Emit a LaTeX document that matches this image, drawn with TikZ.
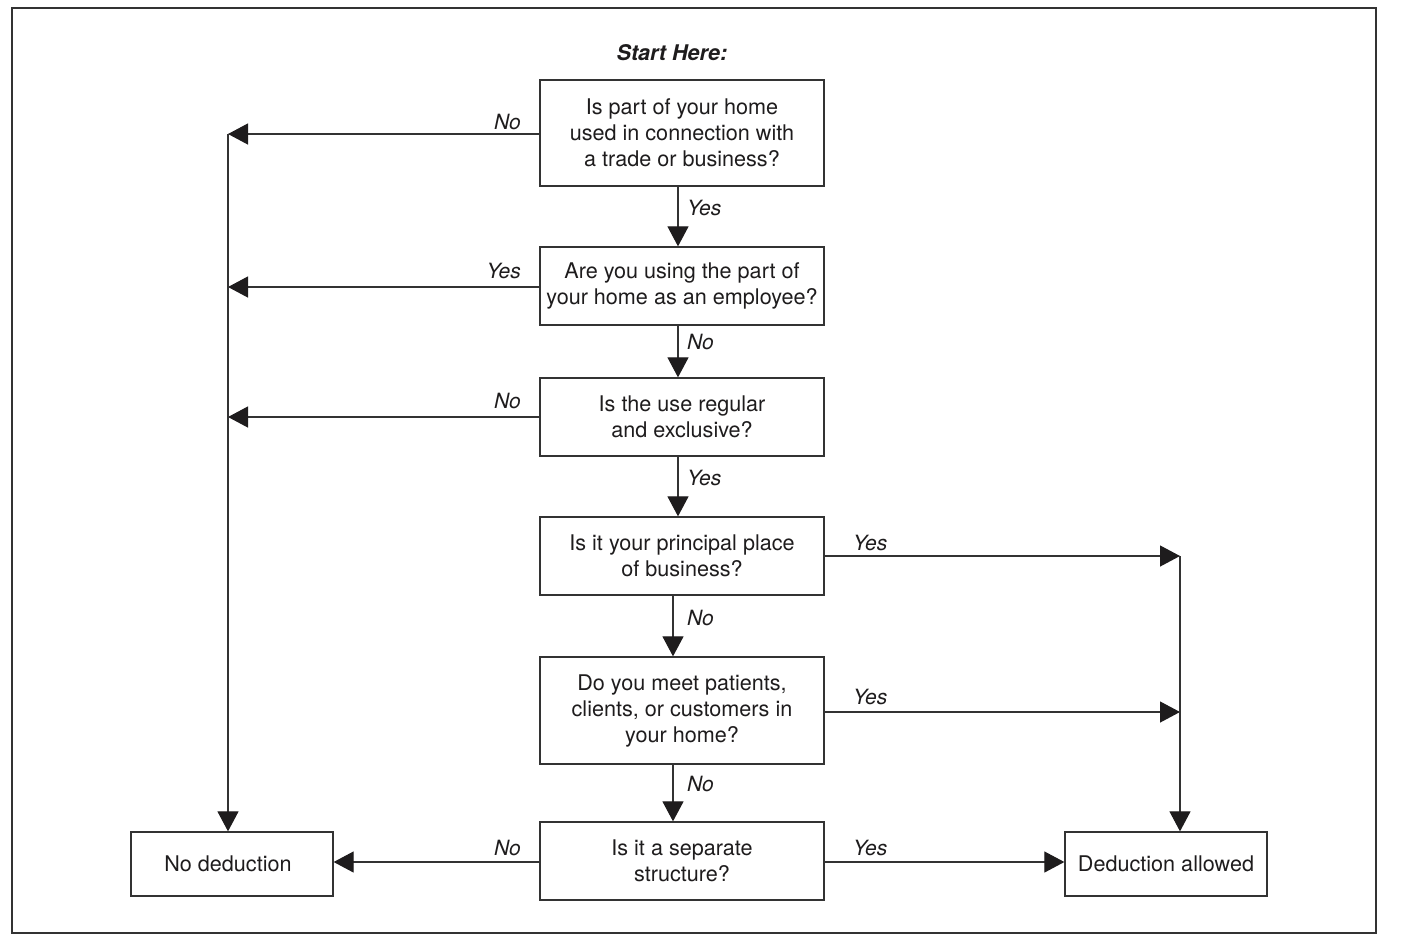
\documentclass[tikz,border=0pt]{standalone}
\usepackage{fontspec}
\setmainfont{TeX Gyre Heros}
\usetikzlibrary{arrows.meta}
\definecolor{ink}{HTML}{1E1C1D}
\definecolor{edge}{HTML}{333333}
\tikzset{
  qbox/.style={draw=edge, line width=1.3pt, align=center, text=ink, inner sep=0pt,
    font=\fontsize{21.6}{26}\selectfont},
  arr/.style={draw=edge, line width=1.2pt, -{Triangle[length=20pt,width=21pt,fill=ink,color=ink]}},
  lbl/.style={text=ink, inner sep=0pt, font=\fontsize{21}{24}\selectfont\itshape}
}
\begin{document}
\begin{tikzpicture}[x=1pt,y=-1pt]
\useasboundingbox (0,0) rectangle (1402,946);
\draw[edge, line width=1.4pt] (12,8) rectangle (1376,933);

\node[lbl, font=\fontsize{21.6}{24}\selectfont\bfseries\itshape] (start) at (672,53) {Start Here:};

\node[qbox, minimum width=284pt, minimum height=106pt] (b1) at (682,133)
  {Is part of your home\\used in connection with\\a trade or business?};
\node[qbox, minimum width=284pt, minimum height=78pt] (b2) at (682,286)
  {Are you using the part of\\your home as an employee?};
\node[qbox, minimum width=284pt, minimum height=78pt] (b3) at (682,417)
  {Is the use regular\\and exclusive?};
\node[qbox, minimum width=284pt, minimum height=78pt] (b4) at (682,556)
  {Is it your principal place\\of business?};
\node[qbox, minimum width=284pt, minimum height=107pt] (b5) at (682,710.5)
  {Do you meet patients,\\clients, or customers in\\your home?};
\node[qbox, minimum width=284pt, minimum height=78pt] (b6) at (682,861)
  {Is it a separate\\structure?};
\node[qbox, minimum width=202pt, minimum height=64pt] (nd) at (232,864) {\hspace*{-8pt}No deduction};
\node[qbox, minimum width=202pt, minimum height=64pt] (da) at (1166,864) {Deduction allowed};

% left collector
\coordinate (L1) at (228,134);
\coordinate (L2) at (228,287);
\coordinate (L3) at (228,417);
\draw[arr] (b1.west |- L1) -- (L1);
\draw[arr] (b2.west |- L2) -- (L2);
\draw[arr] (b3.west |- L3) -- (L3);
\draw[arr] (L1) -- (L1 |- nd.north);
\draw[arr] (b6.west |- 0,862) -- (nd.east |- 0,862);

% right collector
\coordinate (R1) at (1180,556);
\coordinate (R2) at (1180,712);
\draw[arr] (b4.east |- R1) -- (R1);
\draw[arr] (b5.east |- R2) -- (R2);
\draw[arr] (R1) -- (R1 |- da.north);
\draw[arr] (b6.east |- 0,862) -- (da.west |- 0,862);

% central chain
\draw[arr] (678,0 |- b1.south) -- (678,0 |- b2.north);
\draw[arr] (678,0 |- b2.south) -- (678,0 |- b3.north);
\draw[arr] (678,0 |- b3.south) -- (678,0 |- b4.north);
\draw[arr] (673,0 |- b4.south) -- (673,0 |- b5.north);
\draw[arr] (673,0 |- b5.south) -- (673,0 |- b6.north);

% labels
\node[lbl, anchor=east] (l1) at (521,122) {No};
\node[lbl, anchor=east] (l2) at (521,271) {Yes};
\node[lbl, anchor=east] (l3) at (521,401) {No};
\node[lbl, anchor=east] (l6) at (521,848) {No};
\node[lbl, anchor=west] (r4) at (853,543) {Yes};
\node[lbl, anchor=west] (r5) at (853,697) {Yes};
\node[lbl, anchor=west] (r6) at (853,848) {Yes};
\node[lbl, anchor=west] (v1) at (687,208) {Yes};
\node[lbl, anchor=west] (v2) at (687,342) {No};
\node[lbl, anchor=west] (v3) at (687,478) {Yes};
\node[lbl, anchor=west] (v4) at (687,618) {No};
\node[lbl, anchor=west] (v5) at (687,784) {No};
\end{tikzpicture}
\end{document}
